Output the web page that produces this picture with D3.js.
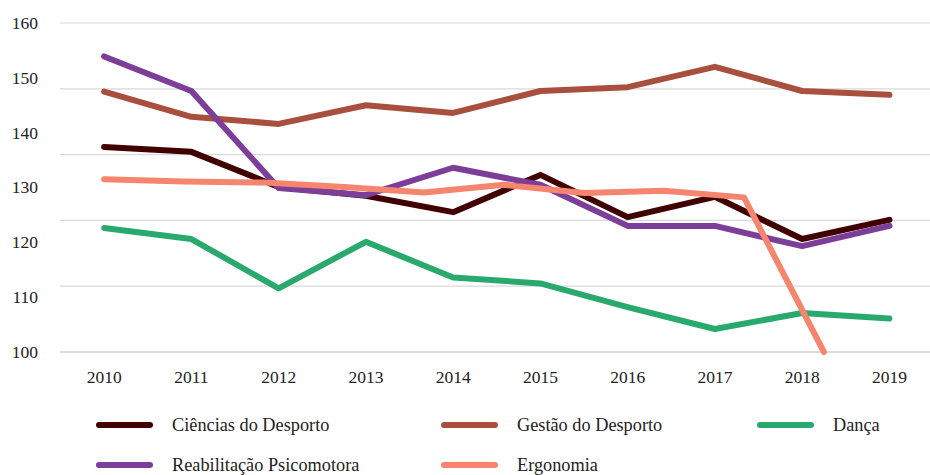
<!DOCTYPE html>
<html>
<head>
<meta charset="utf-8">
<script src="https://cdn.jsdelivr.net/npm/d3@7"></script>
<style>
  body { margin: 0; background: #fff; }
</style>
</head>
<body>
<svg width="930" height="475"></svg>
<script>
const years = [2010, 2011, 2012, 2013, 2014, 2015, 2016, 2017, 2018, 2019];
const yTicks = [100, 110, 120, 130, 140, 150, 160];
const gridTicks = [100, 112, 124, 136, 148, 160];

const seriesNames = ["Ciências do Desporto", "Gestão do Desporto", "Dança", "Reabilitação Psicomotora", "Ergonomia"];
const cienciasValues = [137.4, 136.5, 130.1, 128.5, 125.5, 132.3, 124.6, 128.3, 120.6, 124.1];
const gestaoValues = [147.5, 142.9, 141.6, 145.0, 143.6, 147.6, 148.3, 152.0, 147.6, 146.9];
const dancaValues = [122.6, 120.6, 111.6, 120.1, 113.6, 112.5, 108.2, 104.2, 107.1, 106.1];
const reabValues = [153.9, 147.6, 129.9, 128.6, 133.6, 130.5, 123.0, 123.0, 119.3, 123.0];
// Ergonomia is drawn on its own, narrower spacing (10 points, 11/12 of a year apart)
const ergoValues = [131.5, 131.1, 130.9, 130.1, 129.1, 130.5, 129.0, 129.4, 128.2, 100];
const colors = ["#400000", "#a94f3e", "#2aa96f", "#7c3e98", "#f5856f"];

const FONT = "'Liberation Serif', 'Times New Roman', 'DejaVu Serif', serif";

const svg = d3.select("svg");

const x = d3.scaleBand().domain(years).range([60.5, 933]);
const xc = d => x(d) + x.bandwidth() / 2;
const ergoX = d3.scaleLinear().domain([0, 12]).range([xc(2010), xc(2010) + 11 * x.bandwidth()]);
const y = d3.scaleLinear().domain([100, 160]).range([352, 23]);

// gridlines
svg.append("g")
  .selectAll("line")
  .data(gridTicks)
  .enter().append("line")
  .attr("x1", 60).attr("x2", 931)
  .attr("y1", d => y(d)).attr("y2", d => y(d))
  .attr("stroke", d => d === 100 ? "#d0d0d0" : "#d9d9d9")
  .attr("stroke-width", d => d === 100 ? 1.5 : 1.2);

// y labels
svg.append("g")
  .selectAll("text")
  .data(yTicks)
  .enter().append("text")
  .attr("x", 38)
  .attr("y", d => y(d))
  .attr("dy", "0.34em")
  .attr("text-anchor", "end")
  .attr("font-family", FONT)
  .attr("font-size", 17.5)
  .attr("fill", "#222")
  .text(d => d);

// x labels
svg.append("g")
  .selectAll("text")
  .data(years)
  .enter().append("text")
  .attr("x", d => xc(d))
  .attr("y", 383)
  .attr("text-anchor", "middle")
  .attr("font-family", FONT)
  .attr("font-size", 17.5)
  .attr("fill", "#222")
  .text(d => d);

const series = [
  { name: seriesNames[0], values: cienciasValues, xf: (d, i) => xc(years[i]) },
  { name: seriesNames[1], values: gestaoValues, xf: (d, i) => xc(years[i]) },
  { name: seriesNames[2], values: dancaValues, xf: (d, i) => xc(years[i]) },
  { name: seriesNames[3], values: reabValues, xf: (d, i) => xc(years[i]) },
  { name: seriesNames[4], values: ergoValues, xf: (d, i) => ergoX(i) }
];

series.forEach((s, k) => {
  const line = d3.line().x(s.xf).y(d => y(d));
  svg.append("path")
    .datum(s.values)
    .attr("fill", "none")
    .attr("stroke", colors[k])
    .attr("stroke-width", 6)
    .attr("stroke-linecap", "round")
    .attr("stroke-linejoin", "round")
    .attr("d", line);
});

// legend
const legendPos = [[97, 425], [442, 425], [758, 425], [97, 465], [442, 465]];
const legend = svg.append("g")
  .selectAll("g")
  .data(series)
  .enter().append("g")
  .attr("transform", (d, i) => `translate(${legendPos[i][0]},${legendPos[i][1]})`);

legend.append("line")
  .attr("x1", 2).attr("x2", 53)
  .attr("stroke", (d, i) => colors[i])
  .attr("stroke-width", 6)
  .attr("stroke-linecap", "round");

legend.append("text")
  .attr("x", 75)
  .attr("dy", "0.34em")
  .attr("font-family", FONT)
  .attr("font-size", 18.3)
  .attr("fill", "#222")
  .text(d => d.name);
</script>
</body>
</html>
